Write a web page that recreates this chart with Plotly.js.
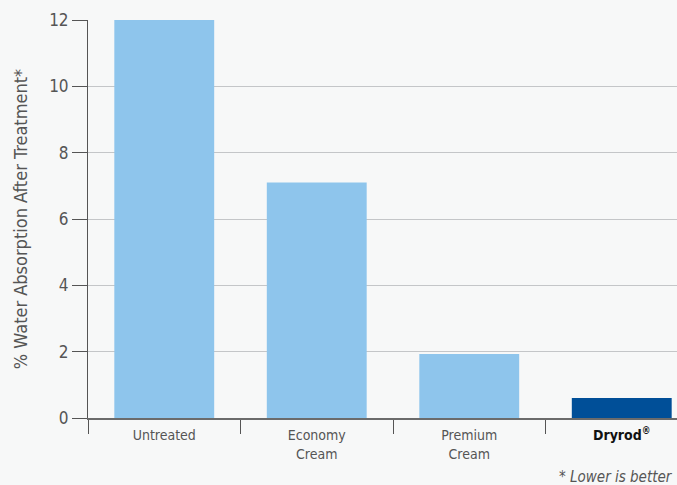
<!DOCTYPE html>
<html>
<head>
<meta charset="utf-8">
<script src="https://cdn.plot.ly/plotly-3.0.1.min.js"></script>
<style>html,body{margin:0;padding:0;background:#f7f8f8;overflow:hidden}</style>
</head>
<body>
<div id="chart"></div>
<script>
const categories = ["Untreated", "Economy Cream", "Premium Cream", "Dryrod"];
const tickLabels = ["Untreated", "Economy<br>Cream", "Premium<br>Cream", "<span style=\"color:#111\"><b>Dryrod<sup>®</sup></b></span>"];
const values = [12, 7.1, 1.93, 0.6];
const barColors = ["#8ec5ec", "#8ec5ec", "#8ec5ec", "#004f98"];
const yTicks = [0, 2, 4, 6, 8, 10, 12];

const font = "'DejaVu Sans Condensed', 'Liberation Sans Narrow', 'Liberation Sans', sans-serif";

Plotly.newPlot("chart", [{
  type: "bar",
  x: categories,
  y: values,
  marker: {color: barColors},
  width: 0.655,
  hoverinfo: "none"
}], {
  width: 720,
  height: 485,
  margin: {l: 88, r: 22, t: 20, b: 67},
  paper_bgcolor: "#f7f8f8",
  plot_bgcolor: "#f7f8f8",
  showlegend: false,
  font: {family: font, color: "#555"},
  xaxis: {
    type: "category",
    range: [-0.5, 3.5],
    tickmode: "array",
    tickvals: categories,
    ticktext: tickLabels,
    tickson: "boundaries",
    ticks: "outside",
    ticklen: 14,
    tickcolor: "#555",
    tickwidth: 1,
    ticklabelstandoff: 4,
    showline: true,
    linecolor: "#6b6b6b",
    linewidth: 1.5,
    showgrid: false,
    tickfont: {size: 14, color: "#555", family: font},
    fixedrange: true
  },
  yaxis: {
    range: [0, 12],
    tickmode: "array",
    tickvals: yTicks,
    ticks: "outside",
    ticklen: 15,
    tickcolor: "#555",
    showline: true,
    linecolor: "#555",
    linewidth: 1,
    showgrid: true,
    gridcolor: "#c4c6c8",
    gridwidth: 1,
    zeroline: false,
    tickfont: {size: 17, color: "#555", family: font},
    title: {text: "% Water Absorption After Treatment*", font: {size: 18, color: "#555", family: font}, standoff: 16},
    fixedrange: true
  },
  annotations: [{
    text: "<i>* Lower is better</i>",
    xref: "paper", yref: "paper",
    x: (675 - 88) / 610, y: 0,
    xanchor: "right", yanchor: "top",
    yshift: -48,
    showarrow: false,
    font: {size: 15, color: "#555", family: font}
  }]
}, {displayModeBar: false, staticPlot: true});
</script>
</body>
</html>
